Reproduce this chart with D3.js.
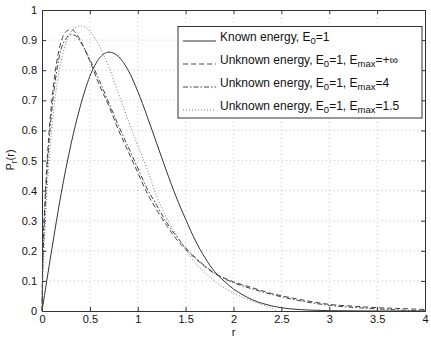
<!DOCTYPE html>
<html>
<head>
<meta charset="utf-8">
<script src="https://cdn.jsdelivr.net/npm/d3@7"></script>
<style>
  body { margin: 0; background: #fff; }
  svg { display: block; font-family: "Liberation Sans", Arial, sans-serif; }
</style>
</head>
<body>
<svg id="chart" width="431" height="341"></svg>
<script>
// r values and P_r(r)
var rKnown = [0,0.1,0.2,0.3,0.4,0.5,0.6,0.7,0.8,0.9,1.0,1.1,1.2,1.3,1.4,1.5,1.6,1.7,1.8,1.9,2.0,2.1,2.2,2.4,2.6,2.8,3.0,3.5,4.0];
var pKnown = [0,0.2,0.39,0.55,0.68,0.78,0.84,0.86,0.845,0.80,0.73,0.645,0.555,0.465,0.38,0.305,0.235,0.178,0.132,0.1,0.073,0.053,0.037,0.017,0.007,0.003,0.001,0,0];

var rInf = [0,0.005,0.01,0.02,0.03,0.05,0.075,0.1,0.15,0.2,0.25,0.3,0.35,0.4,0.5,0.6,0.7,0.8,0.9,1.0,1.1,1.2,1.3,1.4,1.5,1.6,1.7,1.8,1.9,2.0,2.2,2.4,2.6,2.8,3.0,3.25,3.5,3.75,4.0];
var pInf = [0,0.12,0.2,0.29,0.36,0.48,0.6,0.69,0.82,0.895,0.928,0.935,0.925,0.9,0.83,0.75,0.68,0.6,0.53,0.46,0.39,0.335,0.285,0.24,0.205,0.175,0.148,0.125,0.11,0.097,0.077,0.058,0.044,0.032,0.022,0.016,0.011,0.008,0.005];

var rMax4 = rInf;
var pMax4 = [0,0.1,0.17,0.26,0.33,0.45,0.57,0.66,0.79,0.87,0.905,0.918,0.915,0.895,0.835,0.765,0.69,0.615,0.545,0.475,0.405,0.35,0.295,0.25,0.21,0.178,0.15,0.126,0.108,0.094,0.073,0.055,0.04,0.028,0.019,0.012,0.007,0.003,0];

var rMax15 = [0,0.01,0.02,0.04,0.06,0.08,0.1,0.13,0.16,0.2,0.25,0.3,0.35,0.4,0.45,0.5,0.6,0.7,0.8,0.9,1.0,1.1,1.2,1.3,1.4,1.5,1.6,1.7,1.8,1.9,2.0,2.1,2.2,2.3,2.4,2.45];
var pMax15 = [0,0.12,0.2,0.33,0.44,0.53,0.6,0.69,0.76,0.83,0.89,0.925,0.942,0.947,0.943,0.93,0.88,0.81,0.72,0.635,0.55,0.47,0.38,0.31,0.255,0.205,0.16,0.128,0.1,0.078,0.06,0.045,0.033,0.021,0.01,0];

var xTicks = [0,0.5,1,1.5,2,2.5,3,3.5,4];
var yTicks = [0,0.1,0.2,0.3,0.4,0.5,0.6,0.7,0.8,0.9,1];

var seriesNames = [
  {main:"Known energy, E", sub:"0", rest:"=1"},
  {main:"Unknown energy, E", sub:"0", rest:"=1, E", sub2:"max", rest2:"=+\u221E"},
  {main:"Unknown energy, E", sub:"0", rest:"=1, E", sub2:"max", rest2:"=4"},
  {main:"Unknown energy, E", sub:"0", rest:"=1, E", sub2:"max", rest2:"=1.5"}
];

var series = [
  {r:rKnown, p:pKnown, dash:null, color:"#333", w:1},
  {r:rInf, p:pInf, dash:"5,3", color:"#444", w:1},
  {r:rMax4, p:pMax4, dash:"5,2,1.5,2", color:"#444", w:1},
  {r:rMax15, p:pMax15, dash:"1,2", color:"#777", w:1}
];

var svg = d3.select("#chart");
var padL = 42, padR = 425, padT = 10, padB = 311;

var x = d3.scaleLinear().domain([0,4]).range([padL,padR]);
var y = d3.scaleLinear().domain([0,1]).range([padB,padT]);

// grid
var grid = svg.append("g").attr("stroke","#bbb").attr("stroke-width",0.8).attr("stroke-dasharray","1,3");
grid.selectAll(".gx").data(xTicks.slice(1,-1)).enter().append("line")
  .attr("x1",d => x(d)).attr("x2",d => x(d)).attr("y1",padT).attr("y2",padB);
grid.selectAll(".gy").data(yTicks.slice(1,-1)).enter().append("line")
  .attr("y1",d => y(d)).attr("y2",d => y(d)).attr("x1",padL).attr("x2",padR);

// axes (inward ticks, MATLAB style)
var axB = svg.append("g").attr("transform","translate(0,"+padB+")")
  .call(d3.axisBottom(x).tickValues(xTicks).tickSize(-4).tickPadding(6).tickFormat(d3.format("")));
var axT = svg.append("g").attr("transform","translate(0,"+padT+")")
  .call(d3.axisTop(x).tickValues(xTicks).tickSize(-4).tickFormat(""));
var axL = svg.append("g").attr("transform","translate("+padL+",0)")
  .call(d3.axisLeft(y).tickValues(yTicks).tickSize(-4).tickPadding(5).tickFormat(d3.format("")));
var axR = svg.append("g").attr("transform","translate("+padR+",0)")
  .call(d3.axisRight(y).tickValues(yTicks).tickSize(-4).tickFormat(""));
[axB,axT,axL,axR].forEach(function(a){
  a.select(".domain").attr("stroke","#333");
  a.selectAll(".tick line").attr("stroke","#333");
  a.selectAll("text").attr("font-size","11px").attr("fill","#111")
    .attr("font-family","'Liberation Sans', Arial, sans-serif");
});
axB.selectAll("text").attr("dy","0.5em");

// curves
var line = d3.line().x(d => x(d[0])).y(d => y(d[1])).curve(d3.curveMonotoneX);
series.forEach(function(s){
  var pts = s.r.map((r,i) => [r, s.p[i]]);
  svg.append("path").datum(pts)
    .attr("fill","none").attr("stroke",s.color).attr("stroke-width",s.w)
    .attr("stroke-dasharray",s.dash)
    .attr("d",line);
});

// labels
svg.append("text").attr("x",x(2)).attr("y",336).attr("text-anchor","middle")
  .attr("font-size","11px").attr("fill","#111").text("r");
var yl = svg.append("text").attr("transform","translate(14,160) rotate(-90)")
  .attr("text-anchor","middle").attr("font-size","11px").attr("fill","#111");
yl.append("tspan").text("P");
yl.append("tspan").attr("font-size","8.5px").attr("dy","3").text("r");
yl.append("tspan").attr("dy","-3").text("(r)");

// legend
var lg = svg.append("g");
lg.append("rect").attr("x",178).attr("y",26.5).attr("width",244).attr("height",91.5)
  .attr("fill","#fff").attr("stroke","#333").attr("stroke-width",1);
var rowY = [41, 64, 87, 110];
series.forEach(function(s,i){
  lg.append("line").attr("x1",183).attr("x2",216).attr("y1",rowY[i]).attr("y2",rowY[i])
    .attr("stroke",s.color).attr("stroke-width",s.w).attr("stroke-dasharray",s.dash);
  var n = seriesNames[i];
  var t = lg.append("text").attr("x",220).attr("y",rowY[i]).attr("font-size","12px").attr("fill","#111");
  t.append("tspan").text(n.main);
  t.append("tspan").attr("font-size","9.5px").attr("dy","3").text(n.sub);
  t.append("tspan").attr("dy","-3").text(n.rest);
  if (n.sub2) {
    t.append("tspan").attr("font-size","9.5px").attr("dy","3").text(n.sub2);
    t.append("tspan").attr("dy","-3").text(n.rest2);
  }
});
</script>
</body>
</html>
